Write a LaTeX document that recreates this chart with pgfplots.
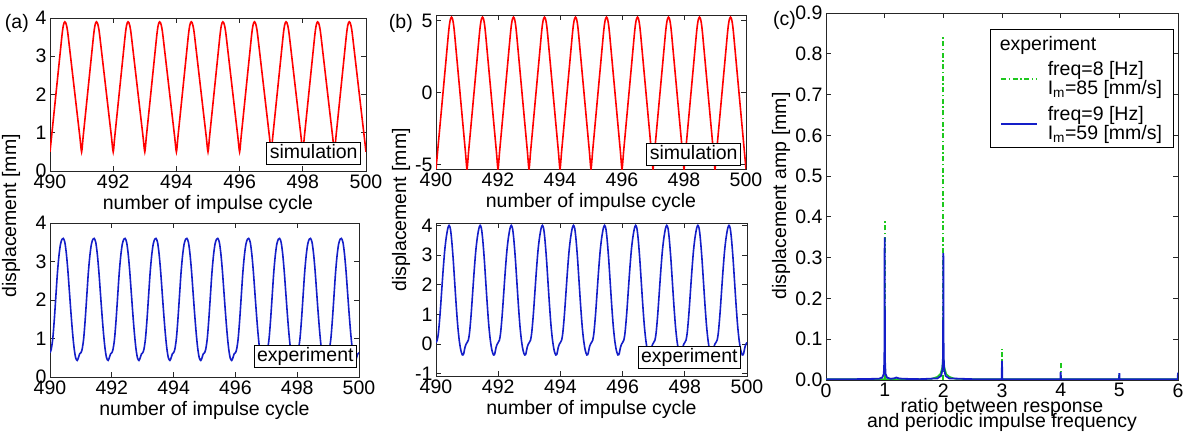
\documentclass[border=0pt]{standalone}
\usepackage{fontspec}
\setmainfont{Liberation Sans}
\usepackage{pgfplots}
\pgfplotsset{compat=1.18}
\definecolor{cred}{RGB}{255,0,0}
\definecolor{cblue}{RGB}{20,30,200}
\definecolor{cgreen}{RGB}{30,200,30}
\pgfplotsset{
  myax/.style={
    scale only axis,
    anchor=north west,
    font=\fontsize{19.5bp}{22bp}\selectfont,
    /pgf/number format/assume math mode=true,
    axis line style={line width=0.9bp, black!85},
    every tick/.style={line width=0.9bp, black!85},
    major tick length=5bp,
    tick align=inside,
    xtick pos=both, ytick pos=both,
    xticklabel pos=bottom, yticklabel pos=left,
  },
  cyc/.style={xmin=490, xmax=500, xtick={490,492,...,500}, xlabel={number of impulse cycle}},
}
\tikzset{lbox/.style={draw=black, line width=0.9bp, fill=white, anchor=south east, inner xsep=3bp, inner ysep=2.5bp, text height=14bp, text depth=3.5bp}}
\begin{document}
\begin{tikzpicture}[font=\fontsize{19.5bp}{22bp}\selectfont]
\useasboundingbox (0,0) rectangle (1186bp,432bp);

% ---------- (a) top: simulation ----------
\begin{axis}[myax, cyc, at={(50bp,414bp)}, width=316bp, height=153bp, ymin=0, ymax=4, ytick={0,1,2,3,4}]
\addplot[cred, line width=1.6bp, smooth, tension=0.4] coordinates {
(490,0.5)(490.047,0.878)(490.094,1.256)(490.141,1.633)(490.188,2.011)(490.235,2.389)(490.282,2.767)(490.329,3.144)(490.376,3.522)(490.4,3.688)(490.423,3.806)(490.447,3.877)(490.47,3.9)(490.497,3.877)(490.523,3.806)(490.55,3.688)(490.576,3.522)(490.629,3.144)(490.682,2.767)(490.735,2.389)(490.788,2.011)(490.841,1.633)(490.894,1.256)(490.947,0.878)
(491,0.5)(491.047,0.878)(491.094,1.256)(491.141,1.633)(491.188,2.011)(491.235,2.389)(491.282,2.767)(491.329,3.144)(491.376,3.522)(491.4,3.688)(491.423,3.806)(491.447,3.877)(491.47,3.9)(491.497,3.877)(491.523,3.806)(491.55,3.688)(491.576,3.522)(491.629,3.144)(491.682,2.767)(491.735,2.389)(491.788,2.011)(491.841,1.633)(491.894,1.256)(491.947,0.878)
(492,0.5)(492.047,0.878)(492.094,1.256)(492.141,1.633)(492.188,2.011)(492.235,2.389)(492.282,2.767)(492.329,3.144)(492.376,3.522)(492.4,3.688)(492.423,3.806)(492.447,3.877)(492.47,3.9)(492.497,3.877)(492.523,3.806)(492.55,3.688)(492.576,3.522)(492.629,3.144)(492.682,2.767)(492.735,2.389)(492.788,2.011)(492.841,1.633)(492.894,1.256)(492.947,0.878)
(493,0.5)(493.047,0.878)(493.094,1.256)(493.141,1.633)(493.188,2.011)(493.235,2.389)(493.282,2.767)(493.329,3.144)(493.376,3.522)(493.4,3.688)(493.423,3.806)(493.447,3.877)(493.47,3.9)(493.497,3.877)(493.523,3.806)(493.55,3.688)(493.576,3.522)(493.629,3.144)(493.682,2.767)(493.735,2.389)(493.788,2.011)(493.841,1.633)(493.894,1.256)(493.947,0.878)
(494,0.5)(494.047,0.878)(494.094,1.256)(494.141,1.633)(494.188,2.011)(494.235,2.389)(494.282,2.767)(494.329,3.144)(494.376,3.522)(494.4,3.688)(494.423,3.806)(494.447,3.877)(494.47,3.9)(494.497,3.877)(494.523,3.806)(494.55,3.688)(494.576,3.522)(494.629,3.144)(494.682,2.767)(494.735,2.389)(494.788,2.011)(494.841,1.633)(494.894,1.256)(494.947,0.878)
(495,0.5)(495.047,0.878)(495.094,1.256)(495.141,1.633)(495.188,2.011)(495.235,2.389)(495.282,2.767)(495.329,3.144)(495.376,3.522)(495.4,3.688)(495.423,3.806)(495.447,3.877)(495.47,3.9)(495.497,3.877)(495.523,3.806)(495.55,3.688)(495.576,3.522)(495.629,3.144)(495.682,2.767)(495.735,2.389)(495.788,2.011)(495.841,1.633)(495.894,1.256)(495.947,0.878)
(496,0.5)(496.047,0.878)(496.094,1.256)(496.141,1.633)(496.188,2.011)(496.235,2.389)(496.282,2.767)(496.329,3.144)(496.376,3.522)(496.4,3.688)(496.423,3.806)(496.447,3.877)(496.47,3.9)(496.497,3.877)(496.523,3.806)(496.55,3.688)(496.576,3.522)(496.629,3.144)(496.682,2.767)(496.735,2.389)(496.788,2.011)(496.841,1.633)(496.894,1.256)(496.947,0.878)
(497,0.5)(497.047,0.878)(497.094,1.256)(497.141,1.633)(497.188,2.011)(497.235,2.389)(497.282,2.767)(497.329,3.144)(497.376,3.522)(497.4,3.688)(497.423,3.806)(497.447,3.877)(497.47,3.9)(497.497,3.877)(497.523,3.806)(497.55,3.688)(497.576,3.522)(497.629,3.144)(497.682,2.767)(497.735,2.389)(497.788,2.011)(497.841,1.633)(497.894,1.256)(497.947,0.878)
(498,0.5)(498.047,0.878)(498.094,1.256)(498.141,1.633)(498.188,2.011)(498.235,2.389)(498.282,2.767)(498.329,3.144)(498.376,3.522)(498.4,3.688)(498.423,3.806)(498.447,3.877)(498.47,3.9)(498.497,3.877)(498.523,3.806)(498.55,3.688)(498.576,3.522)(498.629,3.144)(498.682,2.767)(498.735,2.389)(498.788,2.011)(498.841,1.633)(498.894,1.256)(498.947,0.878)
(499,0.5)(499.047,0.878)(499.094,1.256)(499.141,1.633)(499.188,2.011)(499.235,2.389)(499.282,2.767)(499.329,3.144)(499.376,3.522)(499.4,3.688)(499.423,3.806)(499.447,3.877)(499.47,3.9)(499.497,3.877)(499.523,3.806)(499.55,3.688)(499.576,3.522)(499.629,3.144)(499.682,2.767)(499.735,2.389)(499.788,2.011)(499.841,1.633)(499.894,1.256)(499.947,0.878)
(500,0.5)};
\node[lbox, xshift=-5bp, yshift=6bp] at (rel axis cs:1,0) {simulation};
\end{axis}

% ---------- (a) bottom: experiment ----------
\begin{axis}[myax, cyc, at={(50bp,209bp)}, width=309bp, height=154bp, ymin=0, ymax=4, ytick={0,1,2,3,4}]
\addplot[cblue, line width=1.6bp, smooth] coordinates {
(490,0.63)(490.04,0.72)(490.09,1.0)(490.14,1.5)(490.19,2.1)(490.24,2.7)(490.29,3.15)(490.34,3.45)(490.39,3.58)(490.43,3.6)(490.48,3.5)(490.53,3.2)(490.58,2.75)(490.63,2.2)(490.68,1.65)(490.73,1.15)(490.78,0.75)(490.83,0.5)(490.88,0.43)(490.92,0.5)(490.96,0.6)
(491,0.63)(491.04,0.72)(491.09,1.0)(491.14,1.5)(491.19,2.1)(491.24,2.7)(491.29,3.15)(491.34,3.45)(491.39,3.58)(491.43,3.6)(491.48,3.5)(491.53,3.2)(491.58,2.75)(491.63,2.2)(491.68,1.65)(491.73,1.15)(491.78,0.75)(491.83,0.5)(491.88,0.43)(491.92,0.5)(491.96,0.6)
(492,0.63)(492.04,0.72)(492.09,1.0)(492.14,1.5)(492.19,2.1)(492.24,2.7)(492.29,3.15)(492.34,3.45)(492.39,3.58)(492.43,3.6)(492.48,3.5)(492.53,3.2)(492.58,2.75)(492.63,2.2)(492.68,1.65)(492.73,1.15)(492.78,0.75)(492.83,0.5)(492.88,0.43)(492.92,0.5)(492.96,0.6)
(493,0.63)(493.04,0.72)(493.09,1.0)(493.14,1.5)(493.19,2.1)(493.24,2.7)(493.29,3.15)(493.34,3.45)(493.39,3.58)(493.43,3.6)(493.48,3.5)(493.53,3.2)(493.58,2.75)(493.63,2.2)(493.68,1.65)(493.73,1.15)(493.78,0.75)(493.83,0.5)(493.88,0.43)(493.92,0.5)(493.96,0.6)
(494,0.63)(494.04,0.72)(494.09,1.0)(494.14,1.5)(494.19,2.1)(494.24,2.7)(494.29,3.15)(494.34,3.45)(494.39,3.58)(494.43,3.6)(494.48,3.5)(494.53,3.2)(494.58,2.75)(494.63,2.2)(494.68,1.65)(494.73,1.15)(494.78,0.75)(494.83,0.5)(494.88,0.43)(494.92,0.5)(494.96,0.6)
(495,0.63)(495.04,0.72)(495.09,1.0)(495.14,1.5)(495.19,2.1)(495.24,2.7)(495.29,3.15)(495.34,3.45)(495.39,3.58)(495.43,3.6)(495.48,3.5)(495.53,3.2)(495.58,2.75)(495.63,2.2)(495.68,1.65)(495.73,1.15)(495.78,0.75)(495.83,0.5)(495.88,0.43)(495.92,0.5)(495.96,0.6)
(496,0.63)(496.04,0.72)(496.09,1.0)(496.14,1.5)(496.19,2.1)(496.24,2.7)(496.29,3.15)(496.34,3.45)(496.39,3.58)(496.43,3.6)(496.48,3.5)(496.53,3.2)(496.58,2.75)(496.63,2.2)(496.68,1.65)(496.73,1.15)(496.78,0.75)(496.83,0.5)(496.88,0.43)(496.92,0.5)(496.96,0.6)
(497,0.63)(497.04,0.72)(497.09,1.0)(497.14,1.5)(497.19,2.1)(497.24,2.7)(497.29,3.15)(497.34,3.45)(497.39,3.58)(497.43,3.6)(497.48,3.5)(497.53,3.2)(497.58,2.75)(497.63,2.2)(497.68,1.65)(497.73,1.15)(497.78,0.75)(497.83,0.5)(497.88,0.43)(497.92,0.5)(497.96,0.6)
(498,0.63)(498.04,0.72)(498.09,1.0)(498.14,1.5)(498.19,2.1)(498.24,2.7)(498.29,3.15)(498.34,3.45)(498.39,3.58)(498.43,3.6)(498.48,3.5)(498.53,3.2)(498.58,2.75)(498.63,2.2)(498.68,1.65)(498.73,1.15)(498.78,0.75)(498.83,0.5)(498.88,0.43)(498.92,0.5)(498.96,0.6)
(499,0.63)(499.04,0.72)(499.09,1.0)(499.14,1.5)(499.19,2.1)(499.24,2.7)(499.29,3.15)(499.34,3.45)(499.39,3.58)(499.43,3.6)(499.48,3.5)(499.53,3.2)(499.58,2.75)(499.63,2.2)(499.68,1.65)(499.73,1.15)(499.78,0.75)(499.83,0.5)(499.88,0.43)(499.92,0.5)(499.96,0.6)
(500,0.63)};
\node[lbox, xshift=-2bp, yshift=9bp] at (rel axis cs:1,0) {experiment};
\end{axis}

% ---------- (b) top: simulation ----------
\begin{axis}[myax, cyc, at={(436bp,417bp)}, width=310bp, height=154bp, ymin=-5.3, ymax=5.4, ytick={-5,0,5}]
\addplot[cred, line width=1.6bp, smooth, tension=0.4] coordinates {
(490,-5.3)(490.05,-4.128)(490.1,-2.956)(490.15,-1.784)(490.2,-0.612)(490.25,0.561)(490.3,1.733)(490.35,2.906)(490.4,4.078)(490.425,4.591)(490.45,4.957)(490.475,5.177)(490.5,5.25)(490.525,5.177)(490.55,4.957)(490.575,4.591)(490.6,4.078)(490.65,2.906)(490.7,1.733)(490.75,0.561)(490.8,-0.612)(490.85,-1.784)(490.9,-2.956)(490.95,-4.128)
(491,-5.3)(491.05,-4.128)(491.1,-2.956)(491.15,-1.784)(491.2,-0.612)(491.25,0.561)(491.3,1.733)(491.35,2.906)(491.4,4.078)(491.425,4.591)(491.45,4.957)(491.475,5.177)(491.5,5.25)(491.525,5.177)(491.55,4.957)(491.575,4.591)(491.6,4.078)(491.65,2.906)(491.7,1.733)(491.75,0.561)(491.8,-0.612)(491.85,-1.784)(491.9,-2.956)(491.95,-4.128)
(492,-5.3)(492.05,-4.128)(492.1,-2.956)(492.15,-1.784)(492.2,-0.612)(492.25,0.561)(492.3,1.733)(492.35,2.906)(492.4,4.078)(492.425,4.591)(492.45,4.957)(492.475,5.177)(492.5,5.25)(492.525,5.177)(492.55,4.957)(492.575,4.591)(492.6,4.078)(492.65,2.906)(492.7,1.733)(492.75,0.561)(492.8,-0.612)(492.85,-1.784)(492.9,-2.956)(492.95,-4.128)
(493,-5.3)(493.05,-4.128)(493.1,-2.956)(493.15,-1.784)(493.2,-0.612)(493.25,0.561)(493.3,1.733)(493.35,2.906)(493.4,4.078)(493.425,4.591)(493.45,4.957)(493.475,5.177)(493.5,5.25)(493.525,5.177)(493.55,4.957)(493.575,4.591)(493.6,4.078)(493.65,2.906)(493.7,1.733)(493.75,0.561)(493.8,-0.612)(493.85,-1.784)(493.9,-2.956)(493.95,-4.128)
(494,-5.3)(494.05,-4.128)(494.1,-2.956)(494.15,-1.784)(494.2,-0.612)(494.25,0.561)(494.3,1.733)(494.35,2.906)(494.4,4.078)(494.425,4.591)(494.45,4.957)(494.475,5.177)(494.5,5.25)(494.525,5.177)(494.55,4.957)(494.575,4.591)(494.6,4.078)(494.65,2.906)(494.7,1.733)(494.75,0.561)(494.8,-0.612)(494.85,-1.784)(494.9,-2.956)(494.95,-4.128)
(495,-5.3)(495.05,-4.128)(495.1,-2.956)(495.15,-1.784)(495.2,-0.612)(495.25,0.561)(495.3,1.733)(495.35,2.906)(495.4,4.078)(495.425,4.591)(495.45,4.957)(495.475,5.177)(495.5,5.25)(495.525,5.177)(495.55,4.957)(495.575,4.591)(495.6,4.078)(495.65,2.906)(495.7,1.733)(495.75,0.561)(495.8,-0.612)(495.85,-1.784)(495.9,-2.956)(495.95,-4.128)
(496,-5.3)(496.05,-4.128)(496.1,-2.956)(496.15,-1.784)(496.2,-0.612)(496.25,0.561)(496.3,1.733)(496.35,2.906)(496.4,4.078)(496.425,4.591)(496.45,4.957)(496.475,5.177)(496.5,5.25)(496.525,5.177)(496.55,4.957)(496.575,4.591)(496.6,4.078)(496.65,2.906)(496.7,1.733)(496.75,0.561)(496.8,-0.612)(496.85,-1.784)(496.9,-2.956)(496.95,-4.128)
(497,-5.3)(497.05,-4.128)(497.1,-2.956)(497.15,-1.784)(497.2,-0.612)(497.25,0.561)(497.3,1.733)(497.35,2.906)(497.4,4.078)(497.425,4.591)(497.45,4.957)(497.475,5.177)(497.5,5.25)(497.525,5.177)(497.55,4.957)(497.575,4.591)(497.6,4.078)(497.65,2.906)(497.7,1.733)(497.75,0.561)(497.8,-0.612)(497.85,-1.784)(497.9,-2.956)(497.95,-4.128)
(498,-5.3)(498.05,-4.128)(498.1,-2.956)(498.15,-1.784)(498.2,-0.612)(498.25,0.561)(498.3,1.733)(498.35,2.906)(498.4,4.078)(498.425,4.591)(498.45,4.957)(498.475,5.177)(498.5,5.25)(498.525,5.177)(498.55,4.957)(498.575,4.591)(498.6,4.078)(498.65,2.906)(498.7,1.733)(498.75,0.561)(498.8,-0.612)(498.85,-1.784)(498.9,-2.956)(498.95,-4.128)
(499,-5.3)(499.05,-4.128)(499.1,-2.956)(499.15,-1.784)(499.2,-0.612)(499.25,0.561)(499.3,1.733)(499.35,2.906)(499.4,4.078)(499.425,4.591)(499.45,4.957)(499.475,5.177)(499.5,5.25)(499.525,5.177)(499.55,4.957)(499.575,4.591)(499.6,4.078)(499.65,2.906)(499.7,1.733)(499.75,0.561)(499.8,-0.612)(499.85,-1.784)(499.9,-2.956)(499.95,-4.128)
(500,-5.3)};
\node[lbox, xshift=-5bp, yshift=3bp] at (rel axis cs:1,0) {simulation};
\end{axis}

% ---------- (b) bottom: experiment ----------
\begin{axis}[myax, cyc, at={(436bp,209bp)}, width=311bp, height=153bp, ymin=-1.08, ymax=4.08, ytick={-1,0,1,2,3,4}]
\addplot[cblue, line width=1.6bp, smooth] coordinates {
(490,0.05)(490.04,0.13)(490.08,0.4)(490.13,1.0)(490.18,1.75)(490.23,2.5)(490.28,3.15)(490.33,3.6)(490.38,3.9)(490.42,4.0)(490.46,3.9)(490.5,3.55)(490.55,2.9)(490.6,2.1)(490.65,1.3)(490.7,0.6)(490.75,0.1)(490.8,-0.22)(490.85,-0.37)(490.89,-0.33)(490.93,-0.12)(490.97,0.0)
(491,0.05)(491.04,0.13)(491.08,0.4)(491.13,1.0)(491.18,1.75)(491.23,2.5)(491.28,3.15)(491.33,3.6)(491.38,3.9)(491.42,4.0)(491.46,3.9)(491.5,3.55)(491.55,2.9)(491.6,2.1)(491.65,1.3)(491.7,0.6)(491.75,0.1)(491.8,-0.22)(491.85,-0.37)(491.89,-0.33)(491.93,-0.12)(491.97,0.0)
(492,0.05)(492.04,0.13)(492.08,0.4)(492.13,1.0)(492.18,1.75)(492.23,2.5)(492.28,3.15)(492.33,3.6)(492.38,3.9)(492.42,4.0)(492.46,3.9)(492.5,3.55)(492.55,2.9)(492.6,2.1)(492.65,1.3)(492.7,0.6)(492.75,0.1)(492.8,-0.22)(492.85,-0.37)(492.89,-0.33)(492.93,-0.12)(492.97,0.0)
(493,0.05)(493.04,0.13)(493.08,0.4)(493.13,1.0)(493.18,1.75)(493.23,2.5)(493.28,3.15)(493.33,3.6)(493.38,3.9)(493.42,4.0)(493.46,3.9)(493.5,3.55)(493.55,2.9)(493.6,2.1)(493.65,1.3)(493.7,0.6)(493.75,0.1)(493.8,-0.22)(493.85,-0.37)(493.89,-0.33)(493.93,-0.12)(493.97,0.0)
(494,0.05)(494.04,0.13)(494.08,0.4)(494.13,1.0)(494.18,1.75)(494.23,2.5)(494.28,3.15)(494.33,3.6)(494.38,3.9)(494.42,4.0)(494.46,3.9)(494.5,3.55)(494.55,2.9)(494.6,2.1)(494.65,1.3)(494.7,0.6)(494.75,0.1)(494.8,-0.22)(494.85,-0.37)(494.89,-0.33)(494.93,-0.12)(494.97,0.0)
(495,0.05)(495.04,0.13)(495.08,0.4)(495.13,1.0)(495.18,1.75)(495.23,2.5)(495.28,3.15)(495.33,3.6)(495.38,3.9)(495.42,4.0)(495.46,3.9)(495.5,3.55)(495.55,2.9)(495.6,2.1)(495.65,1.3)(495.7,0.6)(495.75,0.1)(495.8,-0.22)(495.85,-0.37)(495.89,-0.33)(495.93,-0.12)(495.97,0.0)
(496,0.05)(496.04,0.13)(496.08,0.4)(496.13,1.0)(496.18,1.75)(496.23,2.5)(496.28,3.15)(496.33,3.6)(496.38,3.9)(496.42,4.0)(496.46,3.9)(496.5,3.55)(496.55,2.9)(496.6,2.1)(496.65,1.3)(496.7,0.6)(496.75,0.1)(496.8,-0.22)(496.85,-0.37)(496.89,-0.33)(496.93,-0.12)(496.97,0.0)
(497,0.05)(497.04,0.13)(497.08,0.4)(497.13,1.0)(497.18,1.75)(497.23,2.5)(497.28,3.15)(497.33,3.6)(497.38,3.9)(497.42,4.0)(497.46,3.9)(497.5,3.55)(497.55,2.9)(497.6,2.1)(497.65,1.3)(497.7,0.6)(497.75,0.1)(497.8,-0.22)(497.85,-0.37)(497.89,-0.33)(497.93,-0.12)(497.97,0.0)
(498,0.05)(498.04,0.13)(498.08,0.4)(498.13,1.0)(498.18,1.75)(498.23,2.5)(498.28,3.15)(498.33,3.6)(498.38,3.9)(498.42,4.0)(498.46,3.9)(498.5,3.55)(498.55,2.9)(498.6,2.1)(498.65,1.3)(498.7,0.6)(498.75,0.1)(498.8,-0.22)(498.85,-0.37)(498.89,-0.33)(498.93,-0.12)(498.97,0.0)
(499,0.05)(499.04,0.13)(499.08,0.4)(499.13,1.0)(499.18,1.75)(499.23,2.5)(499.28,3.15)(499.33,3.6)(499.38,3.9)(499.42,4.0)(499.46,3.9)(499.5,3.55)(499.55,2.9)(499.6,2.1)(499.65,1.3)(499.7,0.6)(499.75,0.1)(499.8,-0.22)(499.85,-0.37)(499.89,-0.33)(499.93,-0.12)(499.97,0.0)
(500,0.05)};
\node[lbox, xshift=-6bp, yshift=7bp] at (rel axis cs:1,0) {experiment};
\end{axis}

% ---------- (c) spectrum ----------
\begin{axis}[myax, at={(826bp,419bp)}, width=352bp, height=367bp,
  xmin=0, xmax=6, ymin=0, ymax=0.9, xtick={0,1,2,3,4,5,6},
  ytick={0,0.1,0.2,0.3,0.4,0.5,0.6,0.7,0.8,0.9},
  yticklabel style={/pgf/number format/.cd, fixed, fixed zerofill, precision=1},
  xlabel={ratio between response\\[-7bp]and periodic impulse frequency},
  xlabel style={align=center, yshift=6bp},
  legend style={at={(1,1)}, anchor=north east, xshift=-4bp, yshift=-16bp,
    draw=black, line width=0.9bp, fill=white,
    font=\fontsize{19.5bp}{17bp}\selectfont,
    inner xsep=10bp, inner ysep=5bp, row sep=7bp, column sep=8bp,
    nodes={inner sep=1.5bp},
    cells={anchor=west, align=left}},
  legend image code/.code={\draw[#1] (0bp,0bp) -- (36bp,0bp);},
]
\addlegendimage{empty legend}
\addlegendentry{\hspace*{-48bp}experiment}
\addplot[cgreen, line width=1.8bp, dash pattern=on 5bp off 2.5bp on 1.5bp off 2.5bp, ycomb] coordinates {
(1,0.391)(2,0.845)(3,0.075)(4,0.042)(5,0.018)};
\addlegendentry{freq=8 [Hz]\\I\textsubscript{m}=85 [mm/s]}
\addplot[cgreen, line width=1.5bp, forget plot] coordinates {
(0,0.002)(1.6,0.002)(1.8,0.003)(1.9,0.008)(1.95,0.015)(1.98,0.03)(1.995,0.05)(2.005,0.05)(2.02,0.03)(2.05,0.015)(2.1,0.008)(2.2,0.003)(2.4,0.002)(6,0.002)};
\addplot[cblue, line width=1.8bp] coordinates {
(0,0.002)(0.5,0.002)(0.9,0.003)(0.96,0.006)(0.985,0.015)(0.995,0.05)(1.0,0.35)(1.005,0.05)(1.015,0.015)(1.04,0.006)(1.1,0.003)(1.16,0.004)(1.2,0.006)(1.24,0.004)(1.3,0.003)(1.6,0.002)(1.9,0.004)(1.96,0.01)(1.985,0.025)(1.995,0.06)(2.0,0.311)(2.005,0.06)(2.015,0.025)(2.04,0.01)(2.1,0.004)(2.5,0.002)(2.995,0.002)(3.0,0.047)(3.005,0.002)(3.995,0.002)(4.0,0.02)(4.005,0.002)(4.995,0.002)(5.0,0.017)(5.005,0.002)(5.995,0.002)(6.0,0.018)};
\addlegendentry{freq=9 [Hz]\\I\textsubscript{m}=59 [mm/s]}
\end{axis}

% ---------- panel letters and shared labels ----------
\node[anchor=east, inner sep=0pt] at (29bp,409bp) {(a)};
\node[anchor=east, inner sep=0pt] at (413bp,409bp) {(b)};
\node[anchor=east, inner sep=0pt] at (796bp,412bp) {(c)};
\node[rotate=90] at (11bp,216bp) {displacement [mm]};
\node[rotate=90] at (401bp,222bp) {displacement [mm]};
\node[rotate=90] at (781bp,236bp) {displacement amp [mm]};
\end{tikzpicture}
\end{document}
